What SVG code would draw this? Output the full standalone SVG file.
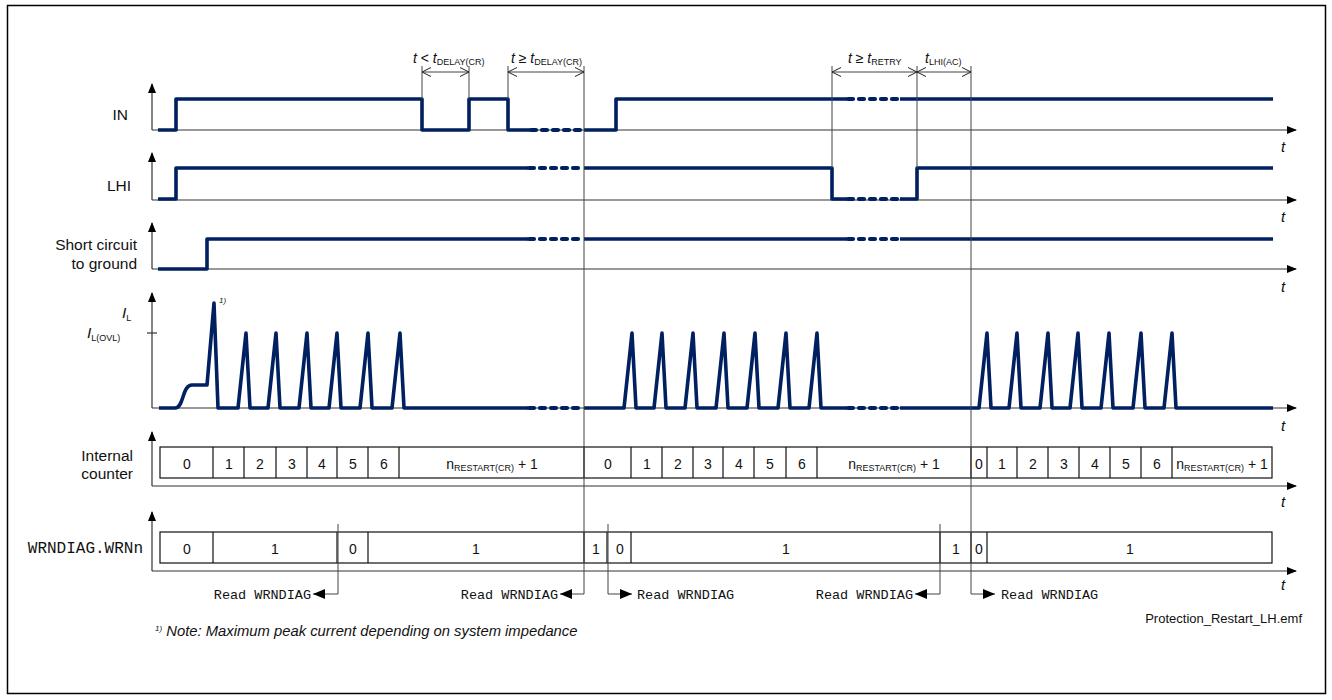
<svg xmlns="http://www.w3.org/2000/svg" width="1332" height="700" viewBox="0 0 1332 700">
<defs>
<marker id="ax" viewBox="0 0 10 8" refX="9" refY="4" markerWidth="10" markerHeight="8" markerUnits="userSpaceOnUse" orient="auto"><path d="M0,0 L10,4 L0,8 z" fill="#000"/></marker>
<marker id="open" viewBox="0 0 10 10" refX="10" refY="5" markerWidth="10" markerHeight="10" markerUnits="userSpaceOnUse" orient="auto-start-reverse"><path d="M1,0.5 L10,5 L1,9.5" fill="none" stroke="#222" stroke-width="1"/></marker>
<marker id="fill" viewBox="0 0 12 10" refX="12" refY="5" markerWidth="12" markerHeight="10" markerUnits="userSpaceOnUse" orient="auto"><path d="M0,0 L12,5 L0,10 z" fill="#000"/></marker>
</defs>
<style>
.frame{fill:#fff;stroke:#000;stroke-width:1.5}
.axis{stroke:#333;stroke-width:1.2;fill:none}
.sig{stroke:#002060;stroke-width:3.6;fill:none;stroke-linejoin:round}
.dot{stroke:#002060;stroke-width:4.2;fill:none;stroke-linecap:round;stroke-dasharray:5 6}
.vl{stroke:#444;stroke-width:1;fill:none}
.box{fill:none;stroke:#111;stroke-width:1.2}
.lbl{font-family:"Liberation Sans",Arial,sans-serif;font-size:15.5px;fill:#111}
.tm{font-family:"Liberation Sans",Arial,sans-serif;font-size:14px;fill:#111}
.cell{font-family:"Liberation Sans",Arial,sans-serif;font-size:14px;fill:#111;text-anchor:middle}
.sub{font-size:9px}
.it{font-style:italic}
.mono{font-family:"Liberation Mono","Courier New",monospace;font-size:13.5px;fill:#111}
.tl{font-family:"Liberation Sans",Arial,sans-serif;font-size:15px;font-style:italic;fill:#111}
</style>
<rect class="frame" x="7.5" y="5.5" width="1318" height="688"/>

<g id="row-IN">
<line class="axis" x1="152" y1="130" x2="1296" y2="130" marker-end="url(#ax)"/>
<line class="axis" x1="152" y1="130" x2="152" y2="84" marker-end="url(#ax)"/>
<text class="lbl" x="128" y="120" text-anchor="end">IN</text>
<text class="tl" x="1281" y="152">t</text>
<path class="sig" d="M158,130 H176 V99 H422 V130 H469 V99 H508 V130 H530"/>
<path class="dot" d="M531,130 H584"/>
<path class="sig" d="M584,130 H616 V99 H847"/>
<path class="dot" d="M848,99 H901"/>
<path class="sig" d="M900,99 H1273"/>
</g>

<g id="row-LHI">
<line class="axis" x1="152" y1="200" x2="1296" y2="200" marker-end="url(#ax)"/>
<line class="axis" x1="152" y1="200" x2="152" y2="153" marker-end="url(#ax)"/>
<text class="lbl" x="131" y="191" text-anchor="end">LHI</text>
<text class="tl" x="1281" y="222">t</text>
<path class="sig" d="M158,199 H176 V168 H528"/>
<path class="dot" d="M529,168 H584"/>
<path class="sig" d="M584,168 H832 V199 H847"/>
<path class="dot" d="M848,199 H901"/>
<path class="sig" d="M900,199 H917 V168 H1273"/>
</g>

<g id="row-SC">
<line class="axis" x1="152" y1="269" x2="1296" y2="269" marker-end="url(#ax)"/>
<line class="axis" x1="152" y1="269" x2="152" y2="223" marker-end="url(#ax)"/>
<text class="lbl" x="137" y="250" text-anchor="end">Short circuit</text>
<text class="lbl" x="137" y="269" text-anchor="end">to ground</text>
<text class="tl" x="1281" y="292">t</text>
<path class="sig" d="M158,269 H207 V239 H528"/>
<path class="dot" d="M529,239 H584"/>
<path class="sig" d="M584,239 H847"/>
<path class="dot" d="M848,239 H901"/>
<path class="sig" d="M900,239 H1273"/>
</g>

<g id="row-IL">
<line class="axis" x1="152" y1="408" x2="1296" y2="408" marker-end="url(#ax)"/>
<line class="axis" x1="152" y1="408" x2="152" y2="293" marker-end="url(#ax)"/>
<line class="axis" x1="147" y1="333" x2="157" y2="333"/>
<text class="lbl" x="122" y="318"><tspan class="it">I</tspan><tspan class="sub" dy="3">L</tspan></text>
<text class="lbl" x="87" y="338"><tspan class="it">I</tspan><tspan class="sub" dy="3">L(OVL)</tspan></text>
<text class="lbl" x="219" y="303" style="font-size:8px;font-style:italic">1)</text>
<text class="tl" x="1281" y="431">t</text>
<path class="sig" d="M159,408 H175 C184,408 182,385 192,385 H207 L214,303 L218,408 H238 L246,333 L250,408 H268 L276,333 L280,408 H299 L307,333 L311,408 H329 L337,333 L341,408 H360 L368,333 L372,408 H392 L400,333 L404,408 H528"/>
<path class="dot" d="M529,408 H584"/>
<path class="sig" d="M584,408 H624 L632,333 L636,408 H654 L662,333 L666,408 H685 L693,333 L697,408 H716 L724,333 L728,408 H747 L755,333 L759,408 H778 L786,333 L790,408 H809 L817,333 L821,408 H847"/>
<path class="dot" d="M848,408 H901"/>
<path class="sig" d="M900,408 H979 L987,333 L991,408 H1009 L1017,333 L1021,408 H1040 L1048,333 L1052,408 H1070 L1078,333 L1082,408 H1101 L1109,333 L1113,408 H1133 L1141,333 L1145,408 H1164 L1172,333 L1176,408 H1273"/>
</g>

<g id="row-counter">
<line class="axis" x1="152" y1="486" x2="1296" y2="486" marker-end="url(#ax)"/>
<line class="axis" x1="152" y1="486" x2="152" y2="432" marker-end="url(#ax)"/>
<text class="lbl" x="133" y="461" text-anchor="end">Internal</text>
<text class="lbl" x="133" y="479" text-anchor="end">counter</text>
<text class="tl" x="1281" y="507">t</text>
<rect class="box" x="160" y="447" width="1112" height="31"/>
<path class="box" d="M213,447 V478 M244,447 V478 M276,447 V478 M307,447 V478 M337,447 V478 M368,447 V478 M399,447 V478 M584,447 V478 M631,447 V478 M662,447 V478 M693,447 V478 M723,447 V478 M754,447 V478 M786,447 V478 M817,447 V478 M971,447 V478 M987,447 V478 M1017,447 V478 M1048,447 V478 M1079,447 V478 M1110,447 V478 M1141,447 V478 M1172,447 V478"/>
<g class="cell">
<text x="187" y="469">0</text><text x="229" y="469">1</text><text x="260" y="469">2</text><text x="292" y="469">3</text><text x="322" y="469">4</text><text x="353" y="469">5</text><text x="384" y="469">6</text>
<text x="492" y="469">n<tspan class="sub" dy="2">RESTART(CR)</tspan><tspan dy="-2"> + 1</tspan></text>
<text x="608" y="469">0</text><text x="647" y="469">1</text><text x="678" y="469">2</text><text x="708" y="469">3</text><text x="739" y="469">4</text><text x="770" y="469">5</text><text x="802" y="469">6</text>
<text x="894" y="469">n<tspan class="sub" dy="2">RESTART(CR)</tspan><tspan dy="-2"> + 1</tspan></text>
<text x="979" y="469">0</text><text x="1002" y="469">1</text><text x="1033" y="469">2</text><text x="1064" y="469">3</text><text x="1095" y="469">4</text><text x="1126" y="469">5</text><text x="1157" y="469">6</text>
<text x="1222" y="469">n<tspan class="sub" dy="2">RESTART(CR)</tspan><tspan dy="-2"> + 1</tspan></text>
</g>
</g>

<g id="row-WRN">
<line class="axis" x1="152" y1="571" x2="1296" y2="571" marker-end="url(#ax)"/>
<line class="axis" x1="152" y1="571" x2="152" y2="512" marker-end="url(#ax)"/>
<text class="mono" x="143" y="553" text-anchor="end" style="font-size:16px">WRNDIAG.WRNn</text>
<text class="tl" x="1281" y="590">t</text>
<rect class="box" x="160" y="532" width="1112" height="31"/>
<path class="box" d="M213,532 V563 M337,532 V563 M368,532 V563 M584,532 V563 M607,532 V563 M631,532 V563 M940,532 V563 M971,532 V563 M987,532 V563"/>
<g class="cell">
<text x="187" y="554">0</text><text x="275" y="554">1</text><text x="353" y="554">0</text><text x="476" y="554">1</text>
<text x="596" y="554">1</text><text x="620" y="554">0</text><text x="786" y="554">1</text><text x="956" y="554">1</text>
<text x="979" y="554">0</text><text x="1130" y="554">1</text>
</g>
</g>

<g id="connectors">
<path class="vl" d="M422,66 V99 M469,66 V99 M508,66 V99 M584,66 V594 M832,66 V168 M917,66 V168 M971,66 V594"/>
<line class="vl" x1="422" y1="72" x2="469" y2="72" marker-start="url(#open)" marker-end="url(#open)"/>
<line class="vl" x1="508" y1="72" x2="584" y2="72" marker-start="url(#open)" marker-end="url(#open)"/>
<line class="vl" x1="832" y1="72" x2="917" y2="72" marker-start="url(#open)" marker-end="url(#open)"/>
<line class="vl" x1="917" y1="72" x2="971" y2="72" marker-start="url(#open)" marker-end="url(#open)"/>
<path class="vl" d="M338,524 V594 H313" marker-end="url(#fill)"/>
<path class="vl" d="M584,594 H560" marker-end="url(#fill)"/>
<path class="vl" d="M608,524 V594 H632" marker-end="url(#fill)"/>
<path class="vl" d="M940,524 V594 H915" marker-end="url(#fill)"/>
<path class="vl" d="M971,594 H995" marker-end="url(#fill)"/>
</g>

<g id="labels">
<text class="tm" x="413" y="63"><tspan class="it">t</tspan> &lt; <tspan class="it">t</tspan><tspan class="sub" dy="2">DELAY(CR)</tspan></text>
<text class="tm" x="511" y="63"><tspan class="it">t</tspan> ≥ <tspan class="it">t</tspan><tspan class="sub" dy="2">DELAY(CR)</tspan></text>
<text class="tm" x="848" y="63"><tspan class="it">t</tspan> ≥ <tspan class="it">t</tspan><tspan class="sub" dy="2">RETRY</tspan></text>
<text class="tm" x="925" y="63"><tspan class="it">t</tspan><tspan class="sub" dy="2">LHI(AC)</tspan></text>
<text class="mono" x="311" y="599" text-anchor="end">Read WRNDIAG</text>
<text class="mono" x="558" y="599" text-anchor="end">Read WRNDIAG</text>
<text class="mono" x="637" y="599">Read WRNDIAG</text>
<text class="mono" x="913" y="599" text-anchor="end">Read WRNDIAG</text>
<text class="mono" x="1001" y="599">Read WRNDIAG</text>
<text class="tm" x="1302" y="623" text-anchor="end" style="font-size:13px">Protection_Restart_LH.emf</text>
<text class="tm it" x="155" y="636" style="font-size:14.8px"><tspan style="font-size:8px" dy="-5">1)</tspan><tspan dy="5"> Note: Maximum peak current depending on system impedance</tspan></text>
</g>
</svg>
